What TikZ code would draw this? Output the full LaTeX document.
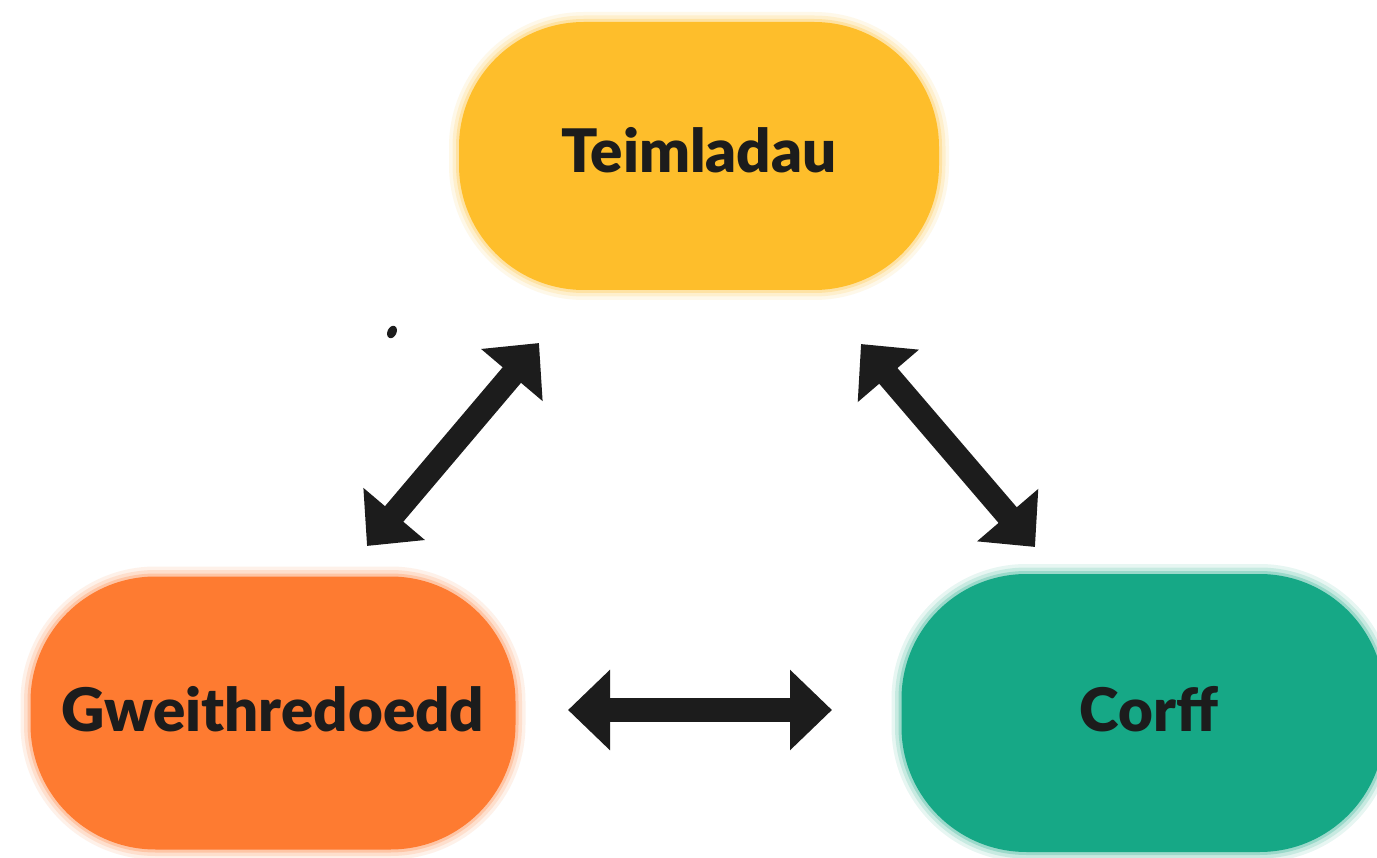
\documentclass[tikz,border=0pt]{standalone}
\usepackage{fontspec}
\setmainfont{Lato}[BoldFont={Lato Black}]
\usetikzlibrary{arrows.meta}
\definecolor{teimyellow}{HTML}{FEBE2B}
\definecolor{gweorange}{HTML}{FE7B31}
\definecolor{corgreen}{HTML}{16A886}
\definecolor{inkblack}{HTML}{1C1C1C}
\begin{document}
\begin{tikzpicture}[x=1pt, y=-1pt,
    blob/.style={rectangle, rounded corners=125pt, inner sep=0pt, fill=#1, text=inkblack,
        font=\fontsize{60}{62}\selectfont\bfseries,
        preaction={draw=#1, line width=20pt, opacity=0.10},
        preaction={draw=#1, line width=13pt, opacity=0.15},
        preaction={draw=#1, line width=6pt, opacity=0.25}},
    dbl/.style={draw=inkblack, line width=24pt,
        {Triangle[length=42pt,width=78pt]}-{Triangle[length=42pt,width=78pt]}}]
    \useasboundingbox (0,0) rectangle (1377,858);
    \fill[white] (0,0) rectangle (1377,858);
    \clip (0,0) rectangle (1377,858);

    \node[blob=teimyellow, minimum width=480, minimum height=268] (tei) at (699,156) {\raisebox{12pt}{Teimladau}};
    \node[blob=gweorange, minimum width=485, minimum height=273] (gwe) at (273,713) {\raisebox{9pt}{Gweithredoedd}\hspace{6pt}};
    \node[blob=corgreen, minimum width=483, minimum height=278] (cor) at (1143,713) {\hspace{12pt}\raisebox{9pt}{Corff}};

    \coordinate (gwe-top) at (367,546);
    \coordinate (tei-left) at (539,343);
    \coordinate (tei-right) at (861,344);
    \coordinate (cor-top) at (1035,547);
    \coordinate (gwe-right) at (568,710);
    \coordinate (cor-left) at (832,710);

    \draw[dbl] (gwe-top) to (tei-left);
    \draw[dbl] (tei-right) to (cor-top);
    \draw[dbl] (gwe-right) to (cor-left);

    \fill[inkblack, rotate around={-25:(392,332)}] (392,332) ellipse (4.5 and 6.5);
\end{tikzpicture}
\end{document}
